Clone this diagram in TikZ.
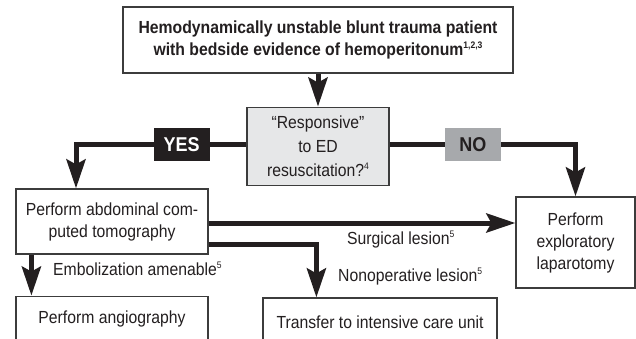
\documentclass[tikz,border=0pt]{standalone}
\usepackage{fontspec}
\setmainfont{Liberation Sans}[FakeStretch=0.9]
\usepackage{xcolor}
\usepackage{tikz}
\usetikzlibrary{arrows.meta,positioning}

\definecolor{inkdark}{HTML}{231F20}
\definecolor{boxline}{HTML}{3C3C3C}
\definecolor{askfill}{HTML}{E6E7E8}
\definecolor{nofill}{HTML}{A7A9AC}
\newcommand{\refmark}[1]{\raisebox{0.75ex}{\fontsize{9.5}{9.5}\selectfont #1}}

\begin{document}
\begin{tikzpicture}[
x=1pt, y=-1pt,
every node/.style={text=inkdark},
box/.style={draw=boxline, line width=1.2pt, fill=white, align=center, inner sep=0pt, font=\fontsize{17.5}{22}\selectfont},
ask/.style={box, fill=askfill, font=\fontsize{17.5}{24}\selectfont},
answer/.style={inner sep=0pt, minimum width=56pt, minimum height=33pt, font=\bfseries\fontsize{20}{20}\selectfont},
flow/.style={draw=inkdark, line width=5pt, -{Stealth[length=29pt,width=19pt,inset=5pt]}},
lbl/.style={inner sep=0pt, anchor=west, font=\fontsize{17.5}{20}\selectfont}
]
\useasboundingbox (0,0) rectangle (636,339);

% boxes
\node[box, minimum width=390pt, minimum height=66pt, font=\bfseries\fontsize{17.5}{22}\selectfont] (patient) at (318,40)
  {Hemodynamically unstable blunt trauma patient\\with bedside evidence of hemoperitonum\refmark{1,2,3}};
\node[ask, minimum width=142pt, minimum height=78pt, below=33pt of patient] (respond)
  {“Responsive”\\to ED\\resuscitation?\refmark{4}};
\node[box, minimum width=192pt, minimum height=65pt] (ct) at (112,221.5)
  {Perform abdominal com-\\puted tomography};
\node[box, minimum width=119pt, minimum height=91pt] (lap) at (575.5,242.5)
  {Perform\\exploratory\\laparotomy};
\node[box, minimum width=192pt, minimum height=46pt, below=41pt of ct] (angio)
  {Perform angiography};
\node[box, minimum width=234pt, minimum height=48pt] (icu) at (380,322)
  {Transfer to intensive care unit};

% connectors
\draw[flow] (patient) -- (respond);
\draw[flow] ([yshift=2pt]respond.west) -| node[answer, fill=inkdark, text=white, pos=.19] (yes) {YES} ([xshift=-36pt]ct.north);
\draw[flow] ([yshift=2pt]respond.east) -| node[answer, fill=nofill, pos=.224] (no) {NO} (lap.north);
\draw[flow] ([yshift=-1.5pt]ct.east) -- ([yshift=-1.5pt]ct.east -| lap.west);
\draw[flow] ([yshift=-22.5pt]ct.east) -| ([xshift=54pt]icu.north west);
\draw[flow] ([xshift=16pt]ct.south west) -- ([xshift=16pt]angio.north west);

% labels
\node[lbl] (surgical) at (347,240) {Surgical lesion\refmark{5}};
\node[lbl] (nonop) at (338,277) {Nonoperative lesion\refmark{5}};
\node[lbl] (embol) at (53,269) {Embolization amenable\refmark{5}};
\end{tikzpicture}
\end{document}
